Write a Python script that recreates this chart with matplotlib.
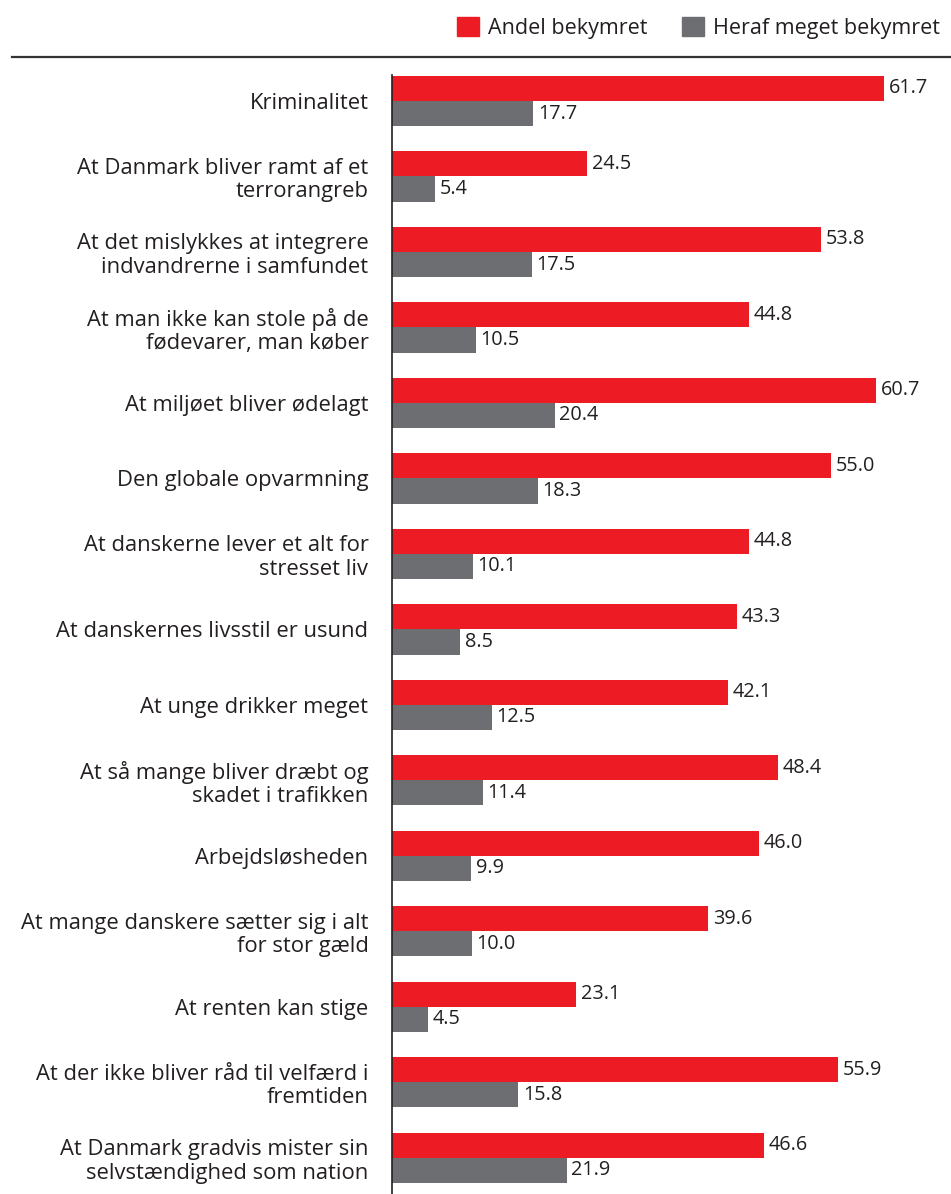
import matplotlib.pyplot as plt
import numpy as np

categories = [
    'Kriminalitet',
    'At Danmark bliver ramt af et\nterrorangreb',
    'At det mislykkes at integrere\nindvandrerne i samfundet',
    'At man ikke kan stole på de\nfødevarer, man køber',
    'At miljøet bliver ødelagt',
    'Den globale opvarmning',
    'At danskerne lever et alt for\nstresset liv',
    'At danskernes livsstil er usund',
    'At unge drikker meget',
    'At så mange bliver dræbt og\nskadet i trafikken',
    'Arbejdsløsheden',
    'At mange danskere sætter sig i alt\nfor stor gæld',
    'At renten kan stige',
    'At der ikke bliver råd til velfærd i\nfremtiden',
    'At Danmark gradvis mister sin\nselvstændighed som nation',
]
andel = [61.7, 24.5, 53.8, 44.8, 60.7, 55.0, 44.8, 43.3, 42.1, 48.4, 46.0, 39.6, 23.1, 55.9, 46.6]
meget = [17.7, 5.4, 17.5, 10.5, 20.4, 18.3, 10.1, 8.5, 12.5, 11.4, 9.9, 10.0, 4.5, 15.8, 21.9]
series_names = ['Andel bekymret', 'Heraf meget bekymret']

red = '#ED1C24'
grey = '#6D6E71'
txt = '#231F20'

plt.rcParams['font.family'] = ['Open Sans', 'DejaVu Sans']

W, H = 951, 1194
fig = plt.figure(figsize=(W / 100, H / 100), dpi=100)
ax = fig.add_axes([392 / W, 0, 1 - 392 / W, (1194 - 75) / H])

y = np.arange(len(categories))
bh = 0.333
ax.barh(y - bh / 2, andel, height=bh, color=red)
ax.barh(y + bh / 2, meget, height=bh, color=grey)

for i in range(len(categories)):
    ax.text(andel[i] + 0.6, y[i] - bh / 2, f'{andel[i]:.1f}', va='center', ha='left',
            fontsize=14.3, color=txt)
    ax.text(meget[i] + 0.6, y[i] + bh / 2, f'{meget[i]:.1f}', va='center', ha='left',
            fontsize=14.3, color=txt)

ax.set_xlim(0, 70.1)
ax.set_ylim(14.48, -0.344)
ax.set_yticks(y)
ax.set_yticklabels(categories, fontsize=15.8, color=txt, linespacing=1.15)
ax.tick_params(axis='y', length=0, pad=17)
ax.set_xticks([])
for s in ['top', 'right', 'bottom']:
    ax.spines[s].set_visible(False)
ax.spines['left'].set_color(txt)
ax.spines['left'].set_linewidth(1.2)

# top rule
fig.add_artist(plt.Line2D([12 / W, 1], [1 - 57 / H, 1 - 57 / H], color='#333333', lw=1.6))

# legend
handles = [plt.Rectangle((0, 0), 1, 1, color=red), plt.Rectangle((0, 0), 1, 1, color=grey)]
fig.legend(handles, series_names, loc='upper right', bbox_to_anchor=(1.0, 1 - 6 / H),
           ncol=2, frameon=False, fontsize=15.5, handlelength=1.0, handleheight=1.0,
           handletextpad=0.45, columnspacing=1.6, labelcolor=txt, borderaxespad=0.1)

fig.savefig('out.png', dpi=100)
